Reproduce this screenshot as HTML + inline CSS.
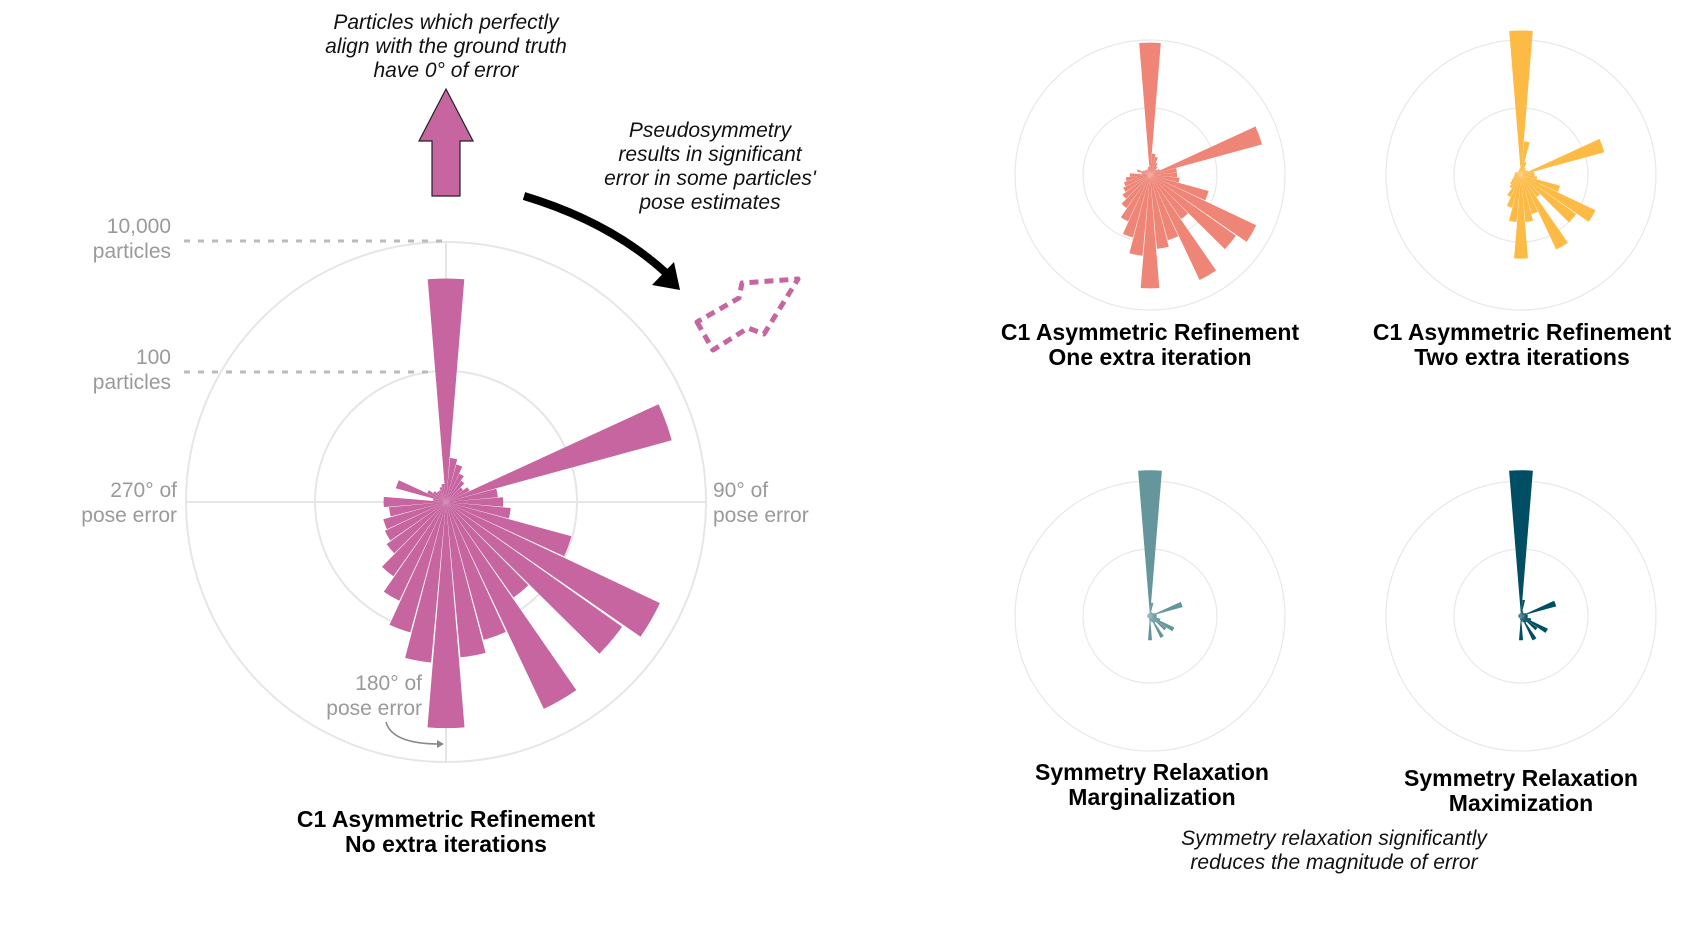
<!DOCTYPE html>
<html><head><meta charset="utf-8"><style>
html,body{margin:0;padding:0;background:#fff;}
svg{display:block;}
text{font-family:"Liberation Sans",sans-serif;}
.it{font-style:italic;font-size:21px;fill:#111;}
.ax{font-size:21px;fill:#9a9a9a;}
.tt{font-weight:bold;font-size:23px;fill:#000;}
</style></head><body>
<svg id="s" width="1697" height="935" viewBox="0 0 1697 935" xmlns="http://www.w3.org/2000/svg">
<g fill="none" stroke="#e6e6e6" stroke-width="2">
<circle cx="446" cy="502" r="260"/><circle cx="446" cy="502" r="131"/>
<line x1="186" y1="502" x2="706" y2="502"/><line x1="446" y1="242" x2="446" y2="762"/>
</g>
<g fill="none" stroke="#e8e8e8" stroke-width="1.2">
<circle cx="1150" cy="175" r="135"/><circle cx="1150" cy="175" r="67"/>
<circle cx="1521" cy="175" r="135"/><circle cx="1521" cy="175" r="67"/>
<circle cx="1150" cy="616" r="135"/><circle cx="1150" cy="616" r="67"/>
<circle cx="1521" cy="616" r="135"/><circle cx="1521" cy="616" r="67"/>
</g>
<g stroke="#bbb" stroke-width="3" stroke-dasharray="6,8">
<line x1="184" y1="241" x2="444" y2="241"/><line x1="184" y1="372" x2="434" y2="372"/>
</g>
<g id="bars"></g>
<path d="M432,196 L432,141 L419,141 L446,89 L473,141 L460,141 L460,196 Z" fill="#C6659F" stroke="#222" stroke-width="1.2"/>
<path d="M524,196 Q610,222 665,272" fill="none" stroke="#000" stroke-width="8"/>
<path d="M652,285 L680,290 L674,262 Z" fill="#000"/>
<path d="M697,322 L713,350 L748,328 L764,334 L798,279 L742,283 L739,298 Z" fill="none" stroke="#C6659F" stroke-width="5" stroke-dasharray="9,6" stroke-linejoin="round"/>
<path d="M386,722 Q392,744 440,744" fill="none" stroke="#888" stroke-width="1.5"/>
<path d="M437,740 L444,744 L437,748 Z" fill="#888"/>
<g class="it" text-anchor="middle">
<text x="446" y="29">Particles which perfectly</text>
<text x="446" y="53">align with the ground truth</text>
<text x="446" y="77">have 0° of error</text>
<text x="710" y="137">Pseudosymmetry</text>
<text x="710" y="161">results in significant</text>
<text x="710" y="185">error in some particles'</text>
<text x="710" y="209">pose estimates</text>
<text x="1334" y="845">Symmetry relaxation significantly</text>
<text x="1334" y="869">reduces the magnitude of error</text>
</g>
<g class="ax" text-anchor="end">
<text x="171" y="233">10,000</text><text x="171" y="258">particles</text>
<text x="171" y="364">100</text><text x="171" y="389">particles</text>
<text x="177" y="497">270° of</text><text x="177" y="522">pose error</text>
<text x="422" y="690">180° of</text><text x="422" y="715">pose error</text>
</g>
<g class="ax"><text x="713" y="497">90° of</text><text x="713" y="522">pose error</text></g>
<g class="tt" text-anchor="middle">
<text x="446" y="827">C1 Asymmetric Refinement</text><text x="446" y="852">No extra iterations</text>
<text x="1150" y="340">C1 Asymmetric Refinement</text><text x="1150" y="365">One extra iteration</text>
<text x="1522" y="340">C1 Asymmetric Refinement</text><text x="1522" y="365">Two extra iterations</text>
<text x="1152" y="780">Symmetry Relaxation</text><text x="1152" y="805">Marginalization</text>
<text x="1521" y="786">Symmetry Relaxation</text><text x="1521" y="811">Maximization</text>
</g>
</svg>
<script>
var main=[0.86,0.17,0.15,0.12,0.1,0.08,0.1,0.9,0.2,0.22,0.25,0.5,0.91,0.83,0.45,0.88,0.55,0.6,0.87,0.62,0.52,0.42,0.35,0.28,0.26,0.25,0.22,0.24,0.05,0.2,0.08,0.06,0.05,0.05,0.06,0.07];
var tl=[0.98,0.16,0.14,0.1,0.08,0.06,0.08,0.86,0.2,0.2,0.22,0.45,0.87,0.78,0.4,0.86,0.5,0.55,0.84,0.6,0.48,0.38,0.3,0.25,0.22,0.2,0.18,0.15,0.06,0.1,0.06,0.05,0.05,0.04,0.05,0.06];
var tr=[1.07,0.25,0.1,0.06,0.05,0.05,0.06,0.64,0.1,0.1,0.12,0.3,0.61,0.5,0.2,0.61,0.3,0.35,0.62,0.35,0.25,0.18,0.12,0.1,0.08,0.06,0.05,0.05,0.04,0.05,0.04,0.03,0.03,0.03,0.04,0.05];
var bl=[1.08,0.1,0.03,0.03,0.03,0.03,0.04,0.25,0.05,0.05,0.05,0.08,0.2,0.15,0.06,0.18,0.05,0.04,0.18,0.03,0.02,0.02,0.02,0.02,0.02,0.02,0.02,0.02,0.02,0.02,0.02,0.02,0.02,0.02,0.02,0.02];
var br=[1.08,0.12,0.04,0.03,0.03,0.03,0.04,0.27,0.05,0.05,0.05,0.08,0.22,0.15,0.06,0.2,0.05,0.04,0.18,0.03,0.02,0.02,0.02,0.02,0.02,0.02,0.02,0.02,0.02,0.02,0.02,0.02,0.02,0.02,0.02,0.02];
var g=document.getElementById('bars'),h='';
function rose(cx,cy,R,d,col){for(var i=0;i<36;i++){var r=d[i]*R,a1=(i*10-4.7)*Math.PI/180,a2=(i*10+4.7)*Math.PI/180;
var x1=cx+r*Math.sin(a1),y1=cy-r*Math.cos(a1),x2=cx+r*Math.sin(a2),y2=cy-r*Math.cos(a2);
h+='<path d="M'+cx+','+cy+'L'+x1.toFixed(1)+','+y1.toFixed(1)+'A'+r.toFixed(1)+','+r.toFixed(1)+' 0 0 1 '+x2.toFixed(1)+','+y2.toFixed(1)+'Z" fill="'+col+'"/>';}}
rose(446,502,260,main,'#C6659F');rose(1150,175,135,tl,'#EE8577');rose(1521,175,135,tr,'#FDBA45');
rose(1150,616,135,bl,'#65969B');rose(1521,616,135,br,'#004E63');
g.innerHTML=h;
</script>
</body></html>
